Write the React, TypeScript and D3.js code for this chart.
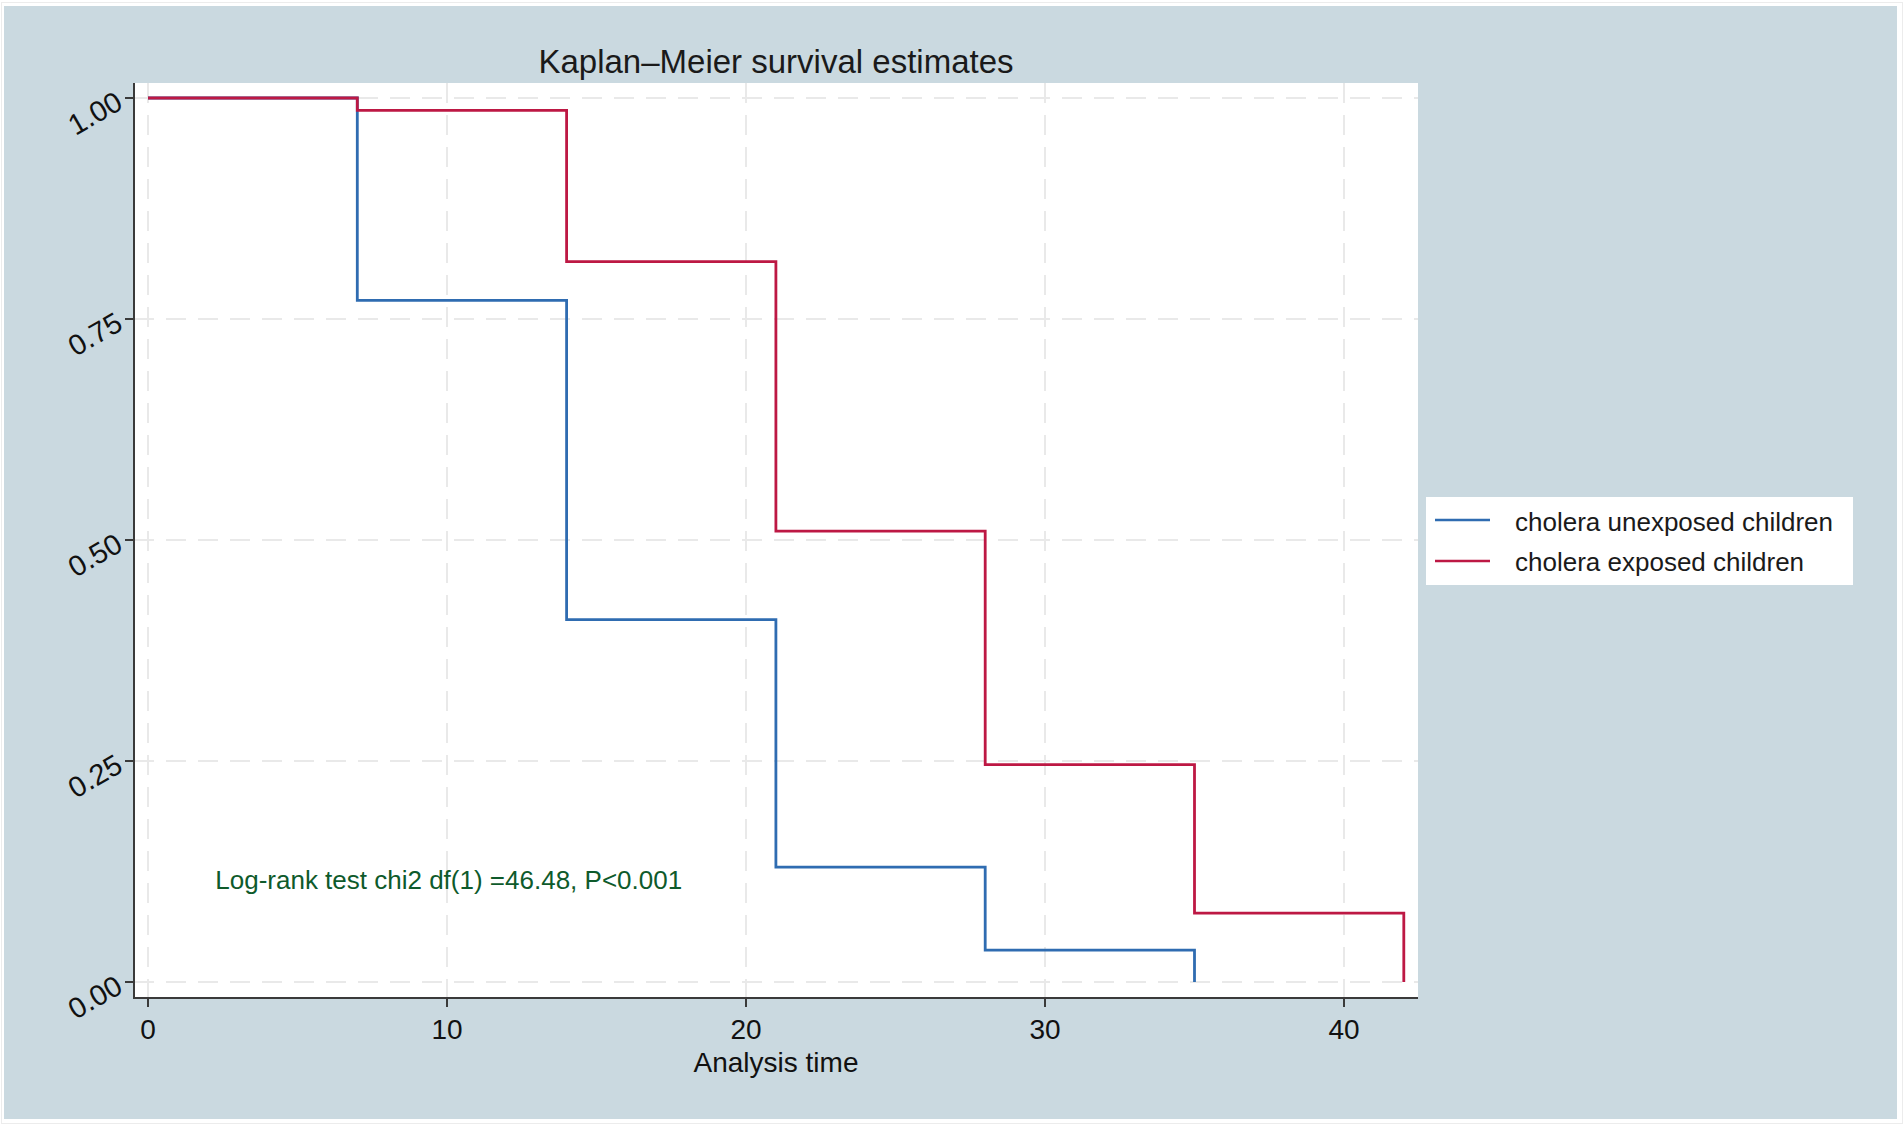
import React from "react";
import { scaleLinear, line, curveStepAfter } from "d3";

// survival steps
const stepTimes = [0, 7, 14, 21, 28, 35, 42];
const unexposed = [1.0, 0.771, 0.41, 0.13, 0.036, 0.0];
const exposed = [1.0, 0.986, 0.815, 0.51, 0.246, 0.078, 0.0];

const seriesNames = ["cholera unexposed children", "cholera exposed children"];
const seriesColors = ["#2f6cb1", "#bd1844"];

const xTicks = [0, 10, 20, 30, 40];
const yTicks = [0, 0.25, 0.5, 0.75, 1];

const annotText = "Log-rank test chi2 df(1) =46.48, P<0.001";
const annotAt = [2.25, 0.105];

const W = 1904;
const H = 1125;
const plot = { left: 134, right: 1418, top: 83, bottom: 998 };
const font = "'Liberation Sans', Arial, Helvetica, sans-serif";

const App = () => {
    const x = scaleLinear().domain([0, 40]).range([148, 1344]);
    const y = scaleLinear().domain([0, 1]).range([982, 98]);

    const km = line<[number, number]>()
        .x((d) => x(d[0]))
        .y((d) => y(d[1]))
        .curve(curveStepAfter);

    const pts = (vals: number[]) =>
        vals.map((v, i) => [stepTimes[i], v] as [number, number]);

    const paths = [pts(unexposed), pts(exposed)];

    return (
        <svg
            width={W}
            height={H}
            style={{ position: "absolute", left: 0, top: 0, background: "#fff" }}
            fontFamily={font}
        >
            <rect x={1.5} y={2.5} width={W - 3} height={H - 4} fill="#fff" stroke="#ececec" strokeWidth={1} />
            <rect x={4} y={6} width={1893} height={1113} fill="#cad9e0" />

            {/* plot region */}
            <rect
                x={plot.left}
                y={plot.top}
                width={plot.right - plot.left}
                height={plot.bottom - plot.top}
                fill="#fff"
            />

            {/* grid */}
            <g stroke="#e9e9e9" strokeWidth={2} strokeDasharray="20 12">
                {yTicks.map((t) => (
                    <line key={"gy" + t} x1={plot.left} x2={plot.right} y1={y(t)} y2={y(t)} />
                ))}
                {xTicks.map((t) => (
                    <line key={"gx" + t} x1={x(t)} x2={x(t)} y1={plot.top} y2={plot.bottom} />
                ))}
            </g>

            {/* survival curves */}
            {paths.map((p, i) => (
                <path
                    key={i}
                    d={km(p) || ""}
                    fill="none"
                    stroke={seriesColors[i]}
                    strokeWidth={2.8}
                />
            ))}

            {/* axes */}
            <g stroke="#3a3a3a" strokeWidth={2}>
                <line x1={plot.left} x2={plot.left} y1={plot.top} y2={plot.bottom + 1} />
                <line x1={plot.left - 1} x2={plot.right} y1={plot.bottom} y2={plot.bottom} />
                {yTicks.map((t) => (
                    <line key={"ty" + t} x1={plot.left - 9} x2={plot.left} y1={y(t)} y2={y(t)} />
                ))}
                {xTicks.map((t) => (
                    <line key={"tx" + t} x1={x(t)} x2={x(t)} y1={plot.bottom} y2={plot.bottom + 9} />
                ))}
            </g>

            {yTicks.map((t) => (
                <text
                    key={"ly" + t}
                    x={95}
                    y={y(t) + 15}
                    dy="0.35em"
                    textAnchor="middle"
                    fontSize={29}
                    fill="#111"
                    transform={`rotate(-30, 95, ${y(t) + 15})`}
                >
                    {t.toFixed(2)}
                </text>
            ))}
            {xTicks.map((t) => (
                <text key={"lx" + t} x={x(t)} y={1039} textAnchor="middle" fontSize={28} fill="#111">
                    {t}
                </text>
            ))}

            <text x={(plot.left + plot.right) / 2} y={1072} textAnchor="middle" fontSize={28} fill="#111">
                Analysis time
            </text>
            <text x={(plot.left + plot.right) / 2} y={73} textAnchor="middle" fontSize={33} fill="#1a1a1a">
                Kaplan–Meier survival estimates
            </text>

            <text x={x(annotAt[0])} y={y(annotAt[1])} fontSize={26} fill="#0e5a2b">
                {annotText}
            </text>

            {/* legend */}
            <rect x={1426} y={497} width={427} height={88} fill="#fff" />
            {seriesNames.map((n, i) => (
                <g key={n}>
                    <line
                        x1={1435}
                        x2={1490}
                        y1={520 + i * 41}
                        y2={520 + i * 41}
                        stroke={seriesColors[i]}
                        strokeWidth={2.6}
                    />
                    <text x={1515} y={531 + i * 40} fontSize={26} fill="#1a1a1a">
                        {n}
                    </text>
                </g>
            ))}
        </svg>
    );
};

export default App;
